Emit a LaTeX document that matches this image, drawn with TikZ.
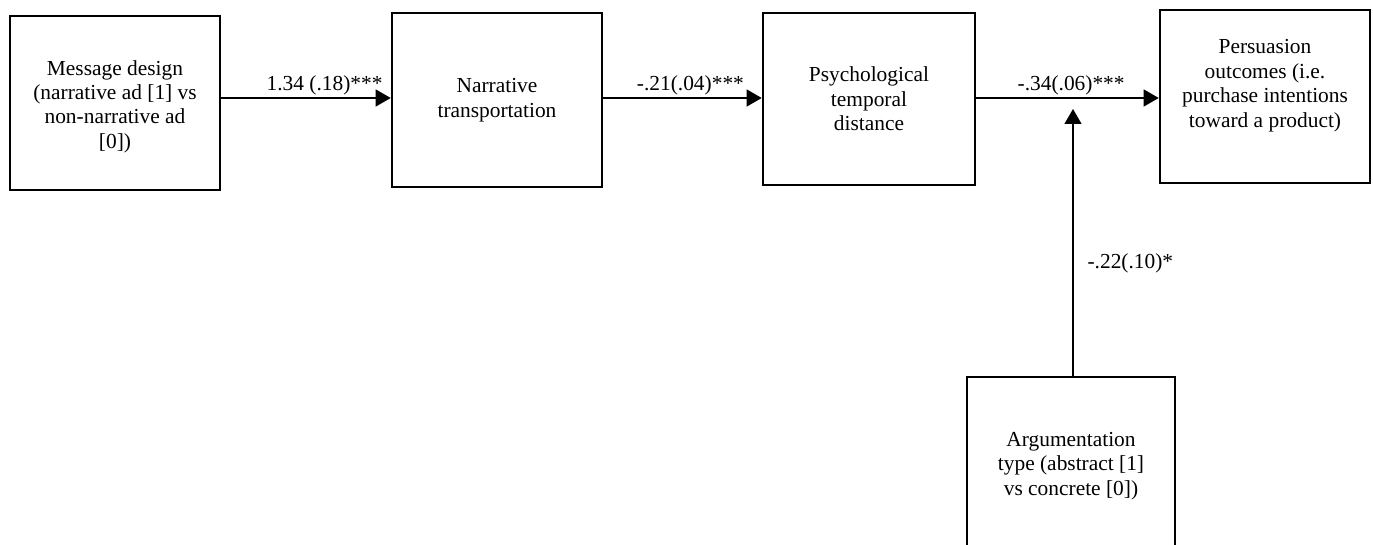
\documentclass[tikz,border=0pt]{standalone}
\usepackage{fontspec}
\setmainfont{Liberation Serif}
\usetikzlibrary{positioning, arrows.meta}
\tikzset{varbox/.style={draw, line width=1.3pt, minimum width=105pt, minimum height=87pt, inner sep=2pt, align=center, font=\fontsize{10.7}{12.2}\selectfont}}
\tikzset{arr/.style={draw, line width=0.6pt, -{Triangle[length=7.5pt, width=8.5pt]}}}
\tikzset{coef/.style={font=\fontsize{10.7}{12.2}\selectfont, inner sep=1pt}}

\begin{document}
\begin{tikzpicture}[x=0.5pt, y=-0.5pt]
	\useasboundingbox (0,0) rectangle (1373,545);
	%
	\node[varbox, text height=47.5pt] (msg) at (115,103) {Message design\\(narrative ad [1] vs\\non-narrative ad\\{}[0])};
	\node[varbox] (trans) at (497,100) {Narrative\\transportation};
	\node[varbox, minimum width=106pt, minimum height=86pt] (dist) at (869,99) {Psychological\\temporal\\distance};
	\node[varbox, minimum width=105pt, minimum height=86.5pt, text depth=13pt] (outc) at (1265,96.5) {Persuasion\\outcomes (i.e.\\purchase intentions\\toward a product)};
	\node[varbox, minimum width=104pt, minimum height=89pt] (argt) at (1071,466) {Argumentation\\type (abstract [1]\\vs concrete [0])};
	%
	\coordinate (row) at (0,98);
	\coordinate (tip) at (1073,109);
	%
	\draw[arr] (msg.east |- row) to
		node[coef, pos=0.61, above] {1.34 (.18)***} (trans.west |- row);
	\draw[arr] (trans.east |- row) to
		node[coef, pos=0.55, above] {-.21(.04)***} (dist.west |- row);
	\draw[arr] (dist.east |- row) to
		node[coef, pos=0.52, above] {-.34(.06)***} (outc.west |- row);
	%
	\draw[arr] (argt.north -| tip) to
		node[coef, pos=0.42, right=6pt] {-.22(.10)*} (tip);
\end{tikzpicture}
\end{document}
